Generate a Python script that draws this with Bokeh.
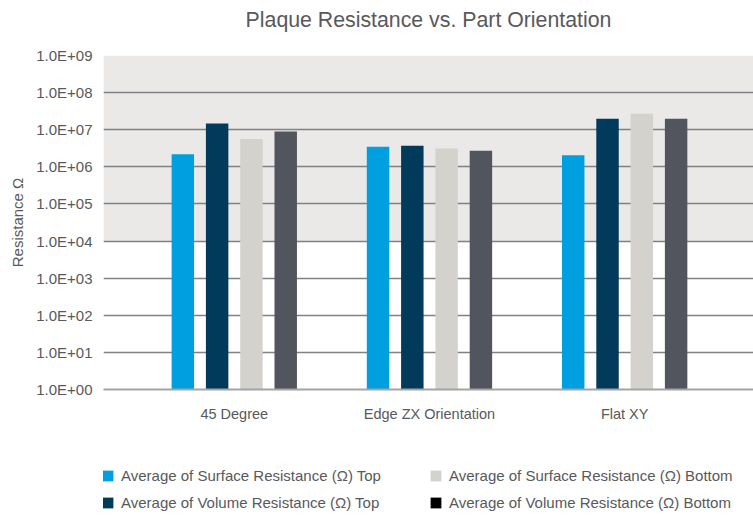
from bokeh.plotting import figure
from bokeh.layouts import column
from bokeh.models import (ColumnDataSource, FixedTicker, Range1d, BoxAnnotation,
                          Legend, LegendItem)
from bokeh.transform import dodge
from bokeh.embed import file_html
from bokeh.resources import INLINE

# ---------------- data ----------------
title_text = "Plaque Resistance vs. Part Orientation"
categories = ["45 Degree", "Edge ZX Orientation", "Flat XY"]
surface_top = [2.2e6, 3.5e6, 2.05e6]
volume_top = [1.47e7, 3.7e6, 1.98e7]
surface_bottom = [5.6e6, 3.1e6, 2.7e7]
volume_bottom = [8.9e6, 2.7e6, 1.98e7]

series_keys = ["surface_top", "volume_top", "surface_bottom", "volume_bottom"]
series_names = [
    "Average of Surface Resistance (Ω) Top",
    "Average of Volume Resistance (Ω) Top",
    "Average of Surface Resistance (Ω) Bottom",
    "Average of Volume Resistance (Ω) Bottom",
]
bar_colors = ["#009fdf", "#023a5c", "#d3d2cc", "#52555d"]
legend_colors = ["#009fdf", "#023a5c", "#d3d2cc", "#000000"]

y_tick_values = [1, 10, 100, 1000, 10000, 100000, 1000000,
                 10000000, 100000000, 1000000000]
y_tick_labels = ["1.0E+00", "1.0E+01", "1.0E+02", "1.0E+03", "1.0E+04",
                 "1.0E+05", "1.0E+06", "1.0E+07", "1.0E+08", "1.0E+09"]

band_bottom, band_top = 1e4, 1e9

FONT = "Liberation Sans"
TXT = "#58595b"
W = 753

# ---------------- title strip ----------------
pt = figure(width=W, height=40, output_backend="svg", toolbar_location=None,
            x_axis_location=None, y_axis_location=None, title=title_text,
            x_range=Range1d(0, 1), y_range=Range1d(0, 1),
            min_border_left=103, min_border_right=0, min_border_top=0,
            min_border_bottom=0)
pt.outline_line_color = None
pt.grid.visible = False
pt.title.align = "center"
pt.title.text_font = FONT
pt.title.text_font_size = "21.3px"
pt.title.text_font_style = "normal"
pt.title.text_color = TXT
pt.title.standoff = 10

# ---------------- main chart ----------------
x_pos = list(range(len(categories)))
src = ColumnDataSource(dict(x=x_pos, surface_top=surface_top, volume_top=volume_top,
                            surface_bottom=surface_bottom, volume_bottom=volume_bottom))

p = figure(width=W, height=400, output_backend="svg", toolbar_location=None,
           title=None, y_axis_type="log", x_range=Range1d(-0.67, 2.66),
           y_range=Range1d(1, 1e9),
           min_border_left=103, min_border_right=0, min_border_top=15,
           min_border_bottom=51)
p.outline_line_color = None
p.background_fill_color = "white"
p.border_fill_color = "white"

# grey band behind upper part
p.add_layout(BoxAnnotation(bottom=band_bottom, top=band_top, fill_color="#eae9e8",
                           fill_alpha=1, line_color=None, level="image"))

pitch = 0.1757
bw = 0.115
offsets = [-1.5 * pitch, -0.5 * pitch, 0.5 * pitch, 1.5 * pitch]
for key, off, col in zip(series_keys, offsets, bar_colors):
    p.vbar(x=dodge("x", off), top=key, bottom=1, width=bw, source=src,
           fill_color=col, line_color=None)

p.xaxis.ticker = FixedTicker(ticks=x_pos)
p.xaxis.major_label_overrides = {i: c for i, c in zip(x_pos, categories)}
p.xaxis.major_tick_line_color = None
p.xaxis.minor_tick_line_color = None
p.xaxis.major_label_standoff = 10
p.xaxis.axis_line_color = "#a3a4a6"
p.xaxis.axis_line_width = 2
p.xaxis.major_label_text_font = FONT
p.xaxis.major_label_text_font_size = "14.5px"
p.xaxis.major_label_text_color = TXT

p.yaxis.ticker = FixedTicker(ticks=y_tick_values, minor_ticks=[])
p.yaxis.major_label_overrides = {v: l for v, l in zip(y_tick_values, y_tick_labels)}
p.yaxis.axis_line_color = None
p.yaxis.major_tick_line_color = None
p.yaxis.minor_tick_line_color = None
p.yaxis.major_label_standoff = 5
p.yaxis.major_label_text_font = FONT
p.yaxis.major_label_text_font_size = "15px"
p.yaxis.major_label_text_color = TXT
p.yaxis.axis_label = "Resistance Ω"
p.yaxis.axis_label_text_font = FONT
p.yaxis.axis_label_text_font_size = "15px"
p.yaxis.axis_label_text_font_style = "normal"
p.yaxis.axis_label_text_color = TXT
p.yaxis.axis_label_standoff = 7

p.xgrid.grid_line_color = None
p.ygrid.grid_line_color = "#808184"
p.ygrid.grid_line_width = 1.5

# ---------------- legend strip ----------------
pl = figure(width=W, height=76, output_backend="svg", toolbar_location=None,
            x_axis_location=None, y_axis_location=None, title=None,
            x_range=Range1d(0, 1), y_range=Range1d(0, 1),
            min_border_left=103, min_border_right=0, min_border_top=0,
            min_border_bottom=0)
pl.outline_line_color = None
pl.grid.visible = False

items = []
for name, col in zip(series_names, legend_colors):
    # legend swatch carrier, anchored outside the visible range
    r = pl.scatter(x=[-1], y=[-1], marker="square", size=10, fill_color=col,
                   line_color=None)
    items.append(LegendItem(label=name, renderers=[r]))

legend = Legend(items=items, orientation="vertical", ncols=2,
                location=(-9, 0), glyph_width=27, glyph_height=27,
                label_height=27, label_width=301, label_standoff=0, spacing=0,
                padding=0, margin=0, border_line_color=None,
                background_fill_alpha=0, label_text_font=FONT,
                label_text_font_size="15px", label_text_color=TXT)
pl.add_layout(legend, "center")

layout = column(pt, p, pl, spacing=0)
open("out.html", "w").write(file_html(layout, INLINE))
